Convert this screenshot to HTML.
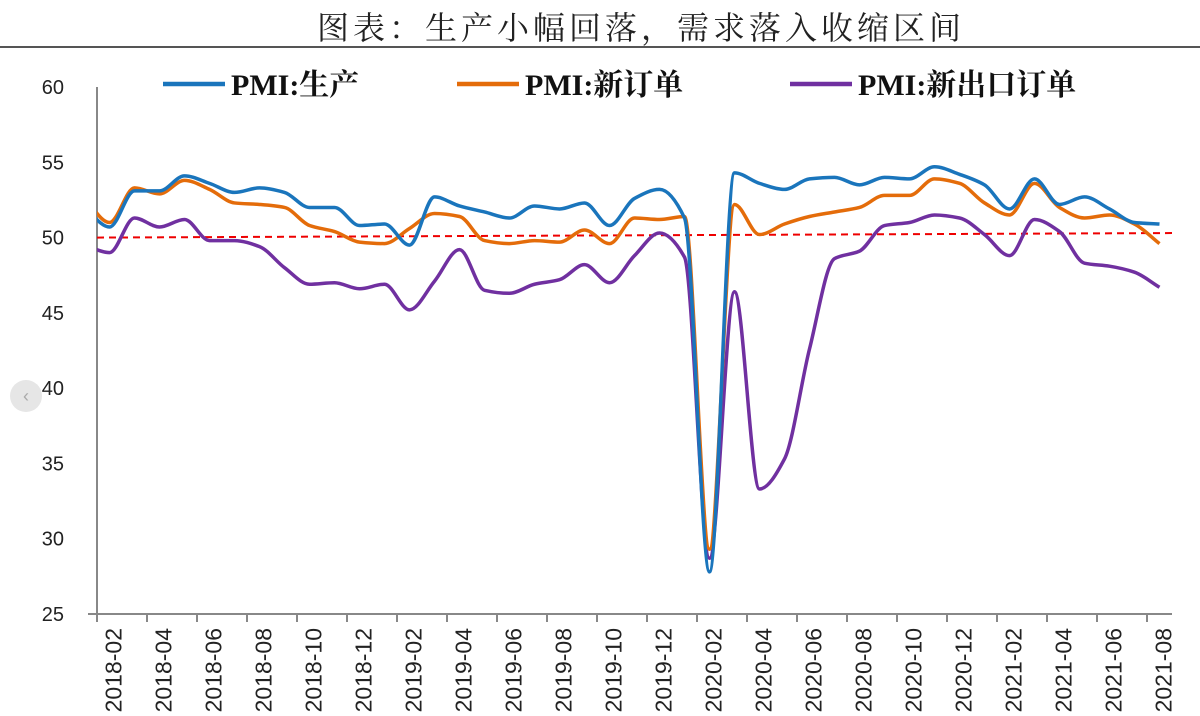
<!DOCTYPE html>
<html><head><meta charset="utf-8"><style>
body{margin:0;background:#fff;width:1200px;height:716px;overflow:hidden;position:relative;font-family:"Liberation Sans","Noto Sans CJK SC",sans-serif}
#title{position:absolute;left:0;top:3px;width:1282px;text-align:center;font:32px "Liberation Serif","Noto Serif CJK SC",serif;color:#222;letter-spacing:4px}
#rule{position:absolute;left:0;top:46px;width:1200px;height:2px;background:#555}
#nav{position:absolute;left:10px;top:380px;width:32px;height:32px;border-radius:50%;background:#e6e6e6;color:#aaa;font-size:18px;text-align:center;line-height:32px}
</style></head><body>
<div id="title">图表：生产小幅回落，需求落入收缩区间</div>
<div id="rule"></div>
<svg id="chart" width="1200" height="716" style="position:absolute;left:0;top:0"></svg>
<div id="nav">‹</div>
<script>
const months=["2018-01","2018-02","2018-03","2018-04","2018-05","2018-06","2018-07","2018-08","2018-09","2018-10","2018-11","2018-12","2019-01","2019-02","2019-03","2019-04","2019-05","2019-06","2019-07","2019-08","2019-09","2019-10","2019-11","2019-12","2020-01","2020-02","2020-03","2020-04","2020-05","2020-06","2020-07","2020-08","2020-09","2020-10","2020-11","2020-12","2021-01","2021-02","2021-03","2021-04","2021-05","2021-06","2021-07","2021-08"];
const production=[52.0,50.7,53.1,53.1,54.1,53.6,53.0,53.3,53.0,52.0,52.0,50.8,50.9,49.5,52.7,52.1,51.7,51.3,52.1,51.9,52.3,50.8,52.6,53.2,51.3,27.8,54.3,53.6,53.2,53.9,54.0,53.5,54.0,53.9,54.7,54.2,53.5,51.9,53.9,52.2,52.7,51.9,51.0,50.9];
const newOrders=[52.6,51.0,53.3,52.9,53.8,53.2,52.3,52.2,52.0,50.8,50.4,49.7,49.6,50.6,51.6,51.4,49.8,49.6,49.8,49.7,50.5,49.6,51.3,51.2,51.4,29.3,52.2,50.2,50.9,51.4,51.7,52.0,52.8,52.8,53.9,53.6,52.3,51.5,53.6,52.0,51.3,51.5,50.9,49.6];
const exportOrders=[49.5,49.0,51.3,50.7,51.2,49.8,49.8,49.4,48.0,46.9,47.0,46.6,46.9,45.2,47.1,49.2,46.5,46.3,46.9,47.2,48.2,47.0,48.8,50.3,48.7,28.7,46.4,33.3,35.3,42.6,48.6,49.1,50.8,51.0,51.5,51.3,50.2,48.8,51.2,50.4,48.3,48.1,47.7,46.7];
const yTicks=[25,30,35,40,45,50,55,60];
const svg=document.getElementById('chart');const NS="http://www.w3.org/2000/svg";
const X0=97,STEP=25,Y0=614,YT=87;
const xOf=i=>X0+STEP*(i-0.5);
const yOf=v=>Y0-(v-25)/35*(Y0-YT);
function mk(t,a,p){const e=document.createElementNS(NS,t);for(const k in a)e.setAttribute(k,a[k]);(p||svg).appendChild(e);return e;}
const defs=mk('defs',{});const cp=mk('clipPath',{id:'clip'},defs);mk('rect',{x:X0,y:0,width:1100,height:716},cp);
yTicks.forEach(v=>{const t=mk('text',{x:64,y:yOf(v)+7,'text-anchor':'end','font-size':20,fill:'#222'});t.textContent=v;

});
const ax=mk('path',{d:`M${X0} ${YT}V${Y0}M88 ${Y0}H1172`,stroke:'#888','stroke-width':2,fill:'none'});


for(let i=1;i<months.length;i+=2){const x=xOf(i)-STEP/2;mk('line',{x1:x,x2:x,y1:Y0,y2:Y0+8,stroke:'#888','stroke-width':2});
const t=mk('text',{x:0,y:0,transform:`translate(${xOf(i)+12},628) rotate(-90)`,'text-anchor':'end','font-size':23,fill:'#222'});t.textContent=months[i];

}
const ref=mk('line',{x1:X0,x2:1172,y1:yOf(50),y2:yOf(50.3),stroke:'#e00','stroke-width':2,'stroke-dasharray':'7,5'});


function smooth(vals){const p=vals.map((v,i)=>[xOf(i),yOf(v)]);const n=p.length;
const d0=[];for(let i=0;i<n-1;i++)d0.push((p[i+1][1]-p[i][1])/STEP);
const m=[];for(let i=0;i<n;i++){if(i==0)m.push(d0[0]);else if(i==n-1)m.push(d0[n-2]);else{const a=d0[i-1],b=d0[i];m.push(a*b<=0?0:2*a*b/(a+b));}}
let d=`M${p[0][0]} ${p[0][1]}`;const h=STEP/3;
for(let i=0;i<n-1;i++){d+=`C${p[i][0]+h} ${p[i][1]+m[i]*h} ${p[i+1][0]-h} ${p[i+1][1]-m[i+1]*h} ${p[i+1][0]} ${p[i+1][1]}`;}return d;}
[[exportOrders,'#7030a0','line-export-orders'],[newOrders,'#e46c0a','line-new-orders'],[production,'#1a75bc','line-production']].forEach(([v,c,n])=>{
const l=mk('path',{d:smooth(v),stroke:c,'stroke-width':3.5,fill:'none','clip-path':'url(#clip)'});

});
[[163,'#1a75bc','PMI:生产'],[457,'#e46c0a','PMI:新订单'],[790,'#7030a0','PMI:新出口订单']].forEach(([x,c,s])=>{
const g=mk('g',{});
mk('line',{x1:x,x2:x+62,y1:84,y2:84,stroke:c,'stroke-width':4.5},g);
const t=mk('text',{x:x+68,y:95,'font-size':30,'font-weight':'bold','font-family':'"Liberation Serif","Noto Serif CJK SC",serif',fill:'#111'},g);t.textContent=s;});
</script>
</body></html>
